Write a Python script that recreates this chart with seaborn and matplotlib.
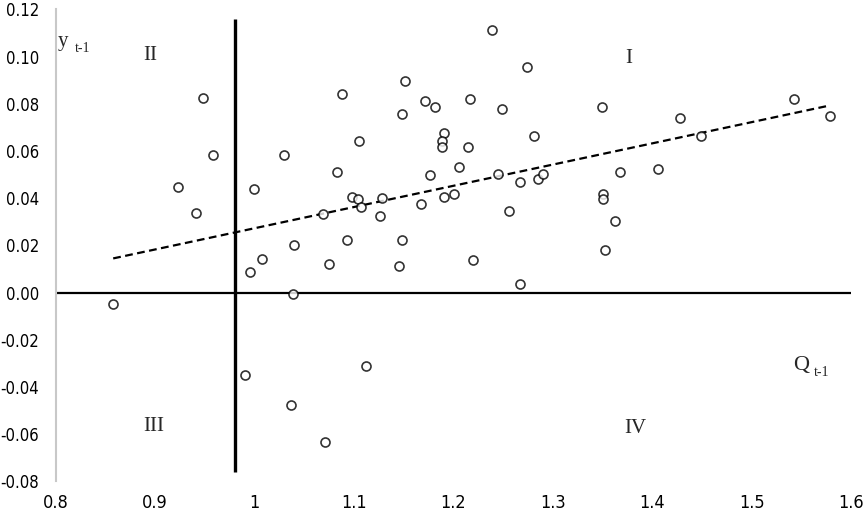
import numpy as np
import pandas as pd
import seaborn as sns
import matplotlib.pyplot as plt

# Q(t-1) 与 y(t-1) 散点数据
q_vals = [0.858, 0.923, 0.941, 0.948, 0.958, 0.991, 0.996, 1.000, 1.008, 1.030,
          1.037, 1.039, 1.040, 1.069, 1.071, 1.075, 1.083, 1.088, 1.093, 1.098,
          1.104, 1.105, 1.107, 1.112, 1.126, 1.128, 1.145, 1.148, 1.148, 1.151,
          1.168, 1.172, 1.177, 1.182, 1.191, 1.189, 1.189, 1.191, 1.201, 1.206,
          1.215, 1.217, 1.220, 1.239, 1.245, 1.249, 1.256, 1.267, 1.267, 1.274,
          1.281, 1.285, 1.290, 1.350, 1.351, 1.351, 1.353, 1.363, 1.368, 1.406,
          1.428, 1.449, 1.543, 1.579]
y_vals = [-0.0050, 0.0446, 0.0338, 0.0827, 0.0583, -0.0347, 0.0086, 0.0439, 0.0143, 0.0583,
          -0.0475, -0.0007, 0.0202, 0.0332, -0.0633, 0.0122, 0.0511, 0.0842, 0.0223, 0.0404,
          0.0397, 0.0641, 0.0361, -0.0310, 0.0325, 0.0403, 0.0114, 0.0223, 0.0756, 0.0899,
          0.0375, 0.0813, 0.0497, 0.0785, 0.0677, 0.0641, 0.0619, 0.0404, 0.0418, 0.0534,
          0.0619, 0.0820, 0.0137, 0.1115, 0.0504, 0.0777, 0.0346, 0.0468, 0.0036, 0.0957,
          0.0662, 0.0482, 0.0505, 0.0785, 0.0419, 0.0396, 0.0180, 0.0302, 0.0511, 0.0525,
          0.0741, 0.0662, 0.0820, 0.0748]

x_ticks = [0.8, 0.9, 1.0, 1.1, 1.2, 1.3, 1.4, 1.5, 1.6]
x_labels = ['0.8', '0.9', '1', '1.1', '1.2', '1.3', '1.4', '1.5', '1.6']
y_ticks = [-0.08, -0.06, -0.04, -0.02, 0.00, 0.02, 0.04, 0.06, 0.08, 0.10, 0.12]

# 象限分界线位置
q_split = 0.981
quadrants = ['I', 'II', 'III', 'IV']
quad_pos = [(1.376, 0.0992), (0.895, 0.1006), (0.899, -0.0569), (1.383, -0.0575)]

df = pd.DataFrame({'Q': q_vals, 'y': y_vals})

sns.set_style('white')
plt.rcParams['font.family'] = ['DejaVu Sans']
plt.rcParams['font.stretch'] = 'condensed'

fig = plt.figure(figsize=(8.66, 5.19), dpi=100)
ax = fig.add_axes([0.0641, 0.0723, 0.9186, 0.9094])

# 坐标轴十字线
ax.axhline(0, color='black', lw=1.6, zorder=1)
ax.vlines(q_split, -0.076, 0.116, color='black', lw=2.4, zorder=1)

sns.regplot(data=df, x='Q', y='y', ax=ax, ci=None,
            scatter_kws=dict(s=42, facecolors='white', edgecolors='black',
                             linewidths=1.2, zorder=3),
            line_kws=dict(color='black', lw=1.6, ls=(0, (3.5, 2)), zorder=2))

ax.set_xlim(0.8, 1.6)
ax.set_ylim(-0.08, 0.12)
ax.set_xticks(x_ticks)
ax.set_xticklabels(x_labels)
ax.set_yticks(y_ticks)
ax.set_yticklabels([f'{v:.2f}' for v in y_ticks])
ax.tick_params(axis='both', length=0, colors='black')
ax.tick_params(axis='y', pad=12, labelsize=12)
ax.tick_params(axis='x', pad=9, labelsize=13)
for t in ax.get_xticklabels() + ax.get_yticklabels():
    t.set_fontstretch('condensed')
ax.set_xlabel('')
ax.set_ylabel('')

for s in ['top', 'right', 'bottom']:
    ax.spines[s].set_visible(False)
ax.spines['left'].set_color('#c8c8c8')
ax.spines['left'].set_linewidth(1.5)

serif = ['Liberation Serif', 'DejaVu Serif']
for lab, (qx, qy) in zip(quadrants, quad_pos):
    ax.text(qx, qy, lab, family=serif, fontsize=15, ha='center', va='center')

ax.text(0.8025, 0.1065, 'y', family=serif, fontsize=15, ha='left', va='center')
ax.text(0.8196, 0.1036, 't-1', family=serif, fontsize=10, ha='left', va='center')
ax.text(1.550, -0.0307, 'Q', family=serif, fontsize=16, ha='center', va='center')
ax.text(1.563, -0.034, 't-1', family=serif, fontsize=10, ha='left', va='center')

plt.savefig('out.png', dpi=100)
